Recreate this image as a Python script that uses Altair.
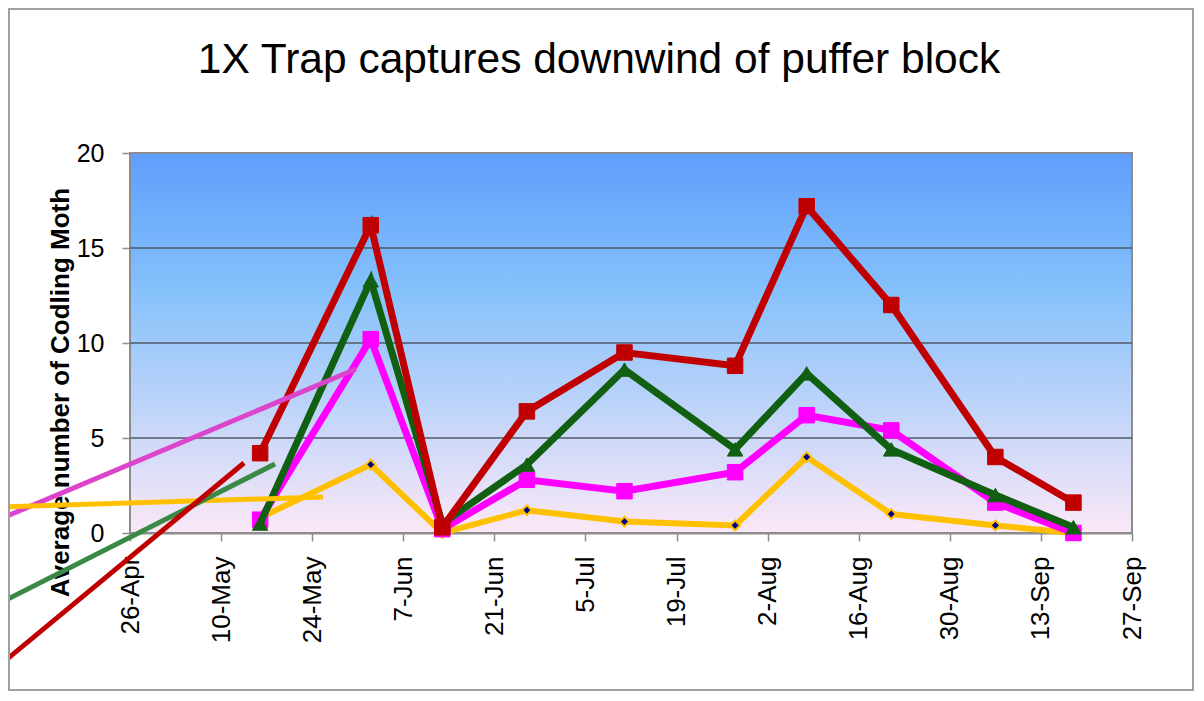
import altair as alt
import pandas as pd

# ---------------- data ----------------
dates = ["2006-05-16", "2006-06-02", "2006-06-13", "2006-06-26", "2006-07-11",
         "2006-07-28", "2006-08-08", "2006-08-21", "2006-09-06", "2006-09-18"]
red_vals = [4.2, 16.2, 0.3, 6.4, 9.5, 8.8, 17.2, 12.0, 4.0, 1.6]
green_vals = [0.5, 13.3, 0.5, 3.6, 8.6, 4.4, 8.4, 4.4, 2.0, 0.3]
magenta_vals = [0.7, 10.2, 0.2, 2.8, 2.2, 3.2, 6.2, 5.4, 1.6, 0.0]
yellow_vals = [0.8, 3.6, 0.0, 1.2, 0.6, 0.4, 4.0, 1.0, 0.4, 0.0]
series_names = ["Series 1", "Series 2", "Series 3", "Series 4"]

x_ticks = ["2006-04-26", "2006-05-10", "2006-05-24", "2006-06-07", "2006-06-21",
           "2006-07-05", "2006-07-19", "2006-08-02", "2006-08-16", "2006-08-30",
           "2006-09-13", "2006-09-27"]
y_ticks = [0, 5, 10, 15, 20]

title_text = "1X Trap captures downwind of puffer block"
y_title = "Average number of Codling Moth"

# ---------------- layout ----------------
W, H = 1002, 380
FONT = "Liberation Sans"


def dt(s):
    y, m, d = (int(p) for p in s.split("-"))
    return alt.DateTime(year=y, month=m, date=d, utc=True)


xscale = alt.Scale(type="utc", domain=[dt(x_ticks[0]), dt(x_ticks[-1])])
yscale = alt.Scale(domain=[y_ticks[0], y_ticks[-1]], nice=False)

xaxis = alt.Axis(values=[dt(s) for s in x_ticks], format="%-d-%b", labelAngle=270,
                 grid=False, domainColor="#8c8c8c", domainWidth=2, tickColor="#8c8c8c",
                 tickWidth=1.5, tickSize=8, labelFont=FONT, labelFontSize=26,
                 labelColor="black", labelPadding=15, title=None, labelOverlap=False)
yaxis = alt.Axis(values=y_ticks, grid=False, domainColor="#8c8c8c", domainWidth=2,
                 tickColor="#8c8c8c", tickWidth=1.5, tickSize=8, labelFont=FONT,
                 labelFontSize=25, labelColor="black", labelPadding=18,
                 title=y_title, titleFont=FONT, titleFontSize=26, titleFontWeight="bold",
                 titleColor="black", titleX=-70, titleY=239, titleAlign="center",
                 titleBaseline="middle")

one = pd.DataFrame({"k": [0]})

gradient = {
    "gradient": "linear", "x1": 0, "x2": 0, "y1": 0, "y2": 1,
    "stops": [
        {"offset": 0, "color": "#5e9efc"},
        {"offset": 0.36, "color": "#85c1fb"},
        {"offset": 1, "color": "#fbe8f7"},
    ],
}

bg = alt.Chart(one).mark_rect(fill=gradient, stroke="#8c8c8c", strokeWidth=2).encode(
    x=alt.value(0), x2=alt.value(W), y=alt.value(0), y2=alt.value(H))

grid = alt.Chart(pd.DataFrame({"v": y_ticks[1:-1]})).mark_rule(
    color="#4f5866", strokeWidth=1.5).encode(y=alt.Y("v:Q", scale=yscale, axis=yaxis))


def series_layers(vals, name, color, shape, size, width, pfill, pstroke, pstroke_w):
    df = pd.DataFrame({"date": dates, "value": vals, "series": name})
    base = alt.Chart(df).encode(
        x=alt.X("date:T", scale=xscale, axis=xaxis),
        y=alt.Y("value:Q", scale=yscale, axis=yaxis),
    )
    line = base.mark_line(color=color, strokeWidth=width, strokeJoin="miter")
    pts = base.mark_point(shape=shape, size=size, filled=True, fill=pfill,
                          stroke=pstroke, strokeWidth=pstroke_w, opacity=1)
    return [line, pts]


layers = [bg, grid]
layers += series_layers(yellow_vals, series_names[3], "#ffc000", "diamond", 95, 6,
                        "#000080", "#ffc000", 2)
layers += series_layers(magenta_vals, series_names[2], "#ff00ff", "square", 240, 7,
                        "#ff00ff", "#ff00ff", 1)
layers += series_layers(green_vals, series_names[1], "#115f11", "triangle-up", 240, 7,
                        "#115f11", "#115f11", 1)
layers += series_layers(red_vals, series_names[0], "#c00000", "square", 240, 7,
                        "#c00000", "#c00000", 1)

# stray leader lines (left over from a removed legend in the original)
leaders = [
    ("#dd44cc", 5, (-130, 366), (226, 216)),
    ("#ffc000", 5, (-130, 354), (193, 344)),
    ("#3a8a46", 5, (-130, 450), (145, 311)),
    ("#c00000", 5, (-130, 512), (114, 310)),
]
for col, sw, p1, p2 in leaders:
    layers.append(alt.Chart(one).mark_rule(color=col, strokeWidth=sw).encode(
        x=alt.value(p1[0]), y=alt.value(p1[1]), x2=alt.value(p2[0]), y2=alt.value(p2[1])))

# chart title
layers.append(alt.Chart(one).mark_text(
    text=title_text, font=FONT, fontSize=42.5, color="black", align="center",
    baseline="alphabetic").encode(x=alt.value(469), y=alt.value(-80)))

# outer chart frame
frame = alt.Chart(one).mark_rect(fill="white", fillOpacity=0, stroke="#a0a0a0",
                                 strokeWidth=2).encode(
    x=alt.value(-121), x2=alt.value(1063), y=alt.value(-144), y2=alt.value(537))
layers.append(frame)

chart = alt.layer(*layers).properties(
    width=W, height=H,
    padding={"left": 122, "top": 145, "right": 62, "bottom": 158},
    autosize=alt.AutoSizeParams(type="none"),
    background="white",
).configure_view(stroke=None)

chart.save("out.html", embed_options={"renderer": "svg", "actions": False})
